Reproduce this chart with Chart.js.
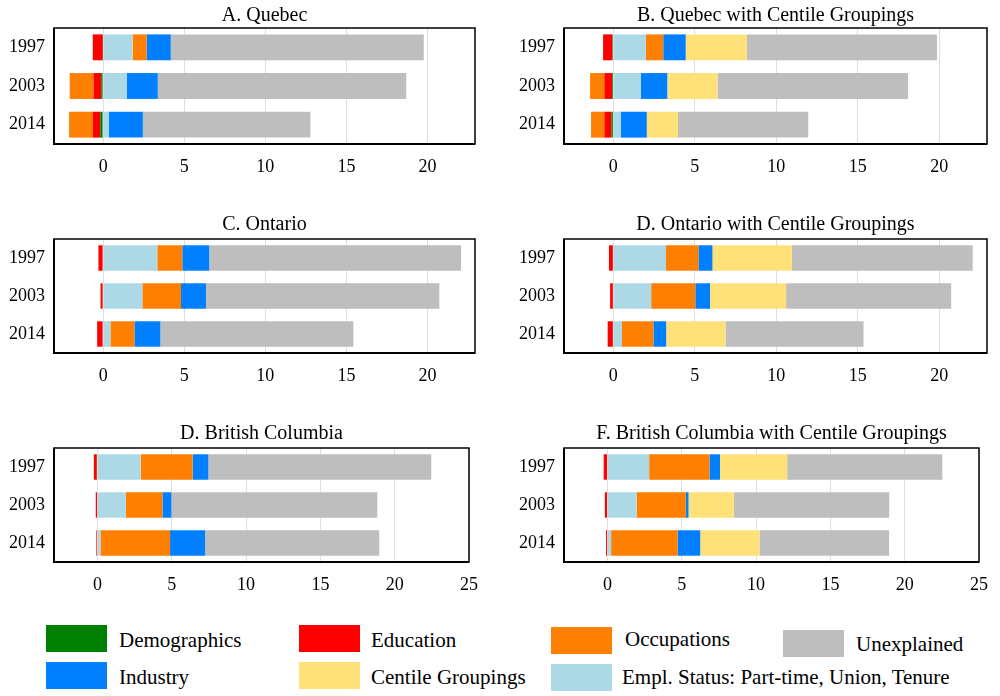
<!DOCTYPE html>
<html>
<head>
<meta charset="utf-8">
<title>Wage gap decomposition</title>
<script src="https://cdn.jsdelivr.net/npm/chart.js@4"></script>
<style>
  html, body { margin: 0; padding: 0; background: #fff; }
  body { width: 1000px; height: 696px; position: relative; overflow: hidden;
         font-family: 'Liberation Serif', 'Times New Roman', serif; }
  .panel { position: absolute; }
  .sw { position: absolute; width: 61px; height: 27px; }
  .lbl { position: absolute; font-size: 21px; line-height: 21px; white-space: nowrap; color: #000; }
</style>
</head>
<body>
<div id="legend"></div>
<script>
// Categories and panel titles
const years = ['1997', '2003', '2014'];
const panelTitles = [
  'A. Quebec',
  'B. Quebec with Centile Groupings',
  'C. Ontario',
  'D. Ontario with Centile Groupings',
  'D. British Columbia',
  'F. British Columbia with Centile Groupings'
];
const xTicksUpper = [0, 5, 10, 15, 20];
const xTicksLower = [0, 5, 10, 15, 20, 25];

// Decomposition components, one row per panel (A..F), one value per year.
const demographics = [
  [-0.02, -0.12, -0.18],
  [-0.06, -0.08, -0.12],
  [0, 0, 0],
  [0, 0, 0],
  [-0.05, 0, 0],
  [0, 0, 0]
];
const education = [
  [-0.62, -0.47, -0.45],
  [-0.57, -0.47, -0.43],
  [-0.29, -0.16, -0.37],
  [-0.27, -0.20, -0.35],
  [-0.20, -0.12, -0.08],
  [-0.26, -0.18, -0.10]
];
const emplStatus = [
  [1.82, 1.47, 0.36],
  [1.99, 1.69, 0.45],
  [3.34, 2.42, 0.45],
  [3.23, 2.32, 0.53],
  [2.91, 1.90, 0.20],
  [2.80, 1.96, 0.24]
];
const occupations = [
  [0.86, -1.47, -1.47],
  [1.07, -0.88, -0.82],
  [1.54, 2.38, 1.48],
  [1.99, 2.71, 1.93],
  [3.49, 2.47, 4.68],
  [4.06, 3.31, 4.48]
];
const industry = [
  [1.49, 1.90, 2.09],
  [1.38, 1.62, 1.60],
  [1.66, 1.54, 1.60],
  [0.86, 0.90, 0.78],
  [1.06, 0.60, 2.36],
  [0.71, 0.18, 1.52]
];
const centile = [
  null,
  [3.74, 3.08, 1.91],
  null,
  [4.87, 4.67, 3.64],
  null,
  [4.52, 3.05, 3.99]
];
const unexplained = [
  [15.60, 15.32, 10.33],
  [11.68, 11.70, 8.00],
  [15.53, 14.39, 11.90],
  [11.10, 10.13, 8.47],
  [15.00, 13.86, 11.72],
  [10.44, 10.46, 8.72]
];

// Series in stacking order
const seriesNames = ['Demographics', 'Education', 'Empl. Status: Part-time, Union, Tenure',
                     'Occupations', 'Industry', 'Centile Groupings', 'Unexplained'];
const seriesValues = [demographics, education, emplStatus, occupations, industry, centile, unexplained];
const seriesColors = ['#008000', '#FF0000', '#ADD8E6', '#FF8000', '#0080FF', '#FFE17A', '#BEBEBE'];

const serif = "'Liberation Serif', 'Times New Roman', serif";

// Panel placement on the page
const panelBoxes = [
  { left: 0,   top: 0,   width: 490, height: 175, padRight: 15, tTop: 4, tBottom: 0 },
  { left: 510, top: 0,   width: 490, height: 175, padRight: 13, tTop: 4, tBottom: 0 },
  { left: 0,   top: 211, width: 490, height: 173, padRight: 15, tTop: 2, tBottom: 2 },
  { left: 510, top: 211, width: 490, height: 173, padRight: 13, tTop: 2, tBottom: 2 },
  { left: 0,   top: 420, width: 490, height: 173, padRight: 14, tTop: 2, tBottom: 2 },
  { left: 510, top: 420, width: 490, height: 173, padRight: 13, tTop: 2, tBottom: 2 }
];

// Black frame around each plot area
const framePlugin = {
  id: 'frame',
  afterDatasetsDraw(chart) {
    const a = chart.chartArea, ctx = chart.ctx;
    ctx.save();
    ctx.strokeStyle = '#000';
    ctx.lineWidth = 1.5;
    ctx.strokeRect(a.left, a.top, a.right - a.left, a.bottom - a.top);
    ctx.lineWidth = 2;
    ctx.beginPath();
    ctx.moveTo(a.left, a.top);
    ctx.lineTo(a.left, a.bottom);
    ctx.lineTo(a.right, a.bottom);
    ctx.stroke();
    ctx.restore();
  }
};

panelBoxes.forEach((box, p) => {
  const holder = document.createElement('div');
  holder.className = 'panel';
  Object.assign(holder.style, { left: box.left + 'px', top: box.top + 'px',
                                width: box.width + 'px', height: box.height + 'px' });
  const canvas = document.createElement('canvas');
  holder.appendChild(canvas);
  document.body.appendChild(holder);

  const lower = p >= 4;
  const ticks = lower ? xTicksLower : xTicksUpper;

  const datasets = [];
  seriesNames.forEach((name, s) => {
    const vals = seriesValues[s][p];
    if (!vals) return;
    datasets.push({
      label: name,
      data: vals,
      backgroundColor: seriesColors[s],
      borderWidth: 0,
      barPercentage: 0.67,
      categoryPercentage: 1
    });
  });

  new Chart(canvas, {
    type: 'bar',
    data: { labels: years, datasets },
    plugins: [framePlugin],
    options: {
      indexAxis: 'y',
      responsive: true,
      maintainAspectRatio: false,
      animation: false,
      layout: { padding: { top: 0, right: box.padRight, bottom: 0, left: 0 } },
      plugins: {
        legend: { display: false },
        tooltip: { enabled: false },
        title: {
          display: true,
          text: panelTitles[p],
          fullSize: false,
          color: '#000',
          font: { family: serif, size: 20, weight: 'normal', lineHeight: 1.2 },
          padding: { top: box.tTop, bottom: box.tBottom }
        }
      },
      scales: {
        x: {
          stacked: true,
          min: lower ? -2.93 : -3.03,
          max: lower ? 25 : 22.93,
          afterBuildTicks: (scale) => { scale.ticks = ticks.map(v => ({ value: v })); },
          afterFit: (scale) => { scale.height = 31; },
          grid: { display: true, color: '#DEDEDE', lineWidth: 1, drawTicks: false },
          border: { display: false },
          ticks: { color: '#000', padding: 12, font: { family: serif, size: 18 } }
        },
        y: {
          stacked: true,
          afterFit: (scale) => { scale.width = 54; },
          grid: { display: false, drawTicks: false },
          border: { display: false },
          ticks: { color: '#000', padding: 9, font: { family: serif, size: 18 } }
        }
      }
    }
  });
});

// Shared key below the panels
const keyOrder = [
  { s: 0, sx: 46,  sy: 625, tx: 119, ty: 630 },
  { s: 1, sx: 299, sy: 625, tx: 371, ty: 630 },
  { s: 3, sx: 551, sy: 627, tx: 625, ty: 629 },
  { s: 6, sx: 783, sy: 630, tx: 856, ty: 634 },
  { s: 4, sx: 46,  sy: 662, tx: 119, ty: 667 },
  { s: 5, sx: 299, sy: 662, tx: 371, ty: 667 },
  { s: 2, sx: 551, sy: 664, tx: 622, ty: 667 }
];
const legendEl = document.getElementById('legend');
keyOrder.forEach(k => {
  const sw = document.createElement('div');
  sw.className = 'sw';
  Object.assign(sw.style, { left: k.sx + 'px', top: k.sy + 'px', background: seriesColors[k.s] });
  const lbl = document.createElement('div');
  lbl.className = 'lbl';
  lbl.textContent = seriesNames[k.s];
  Object.assign(lbl.style, { left: k.tx + 'px', top: k.ty + 'px' });
  legendEl.appendChild(sw);
  legendEl.appendChild(lbl);
});
</script>
</body>
</html>
